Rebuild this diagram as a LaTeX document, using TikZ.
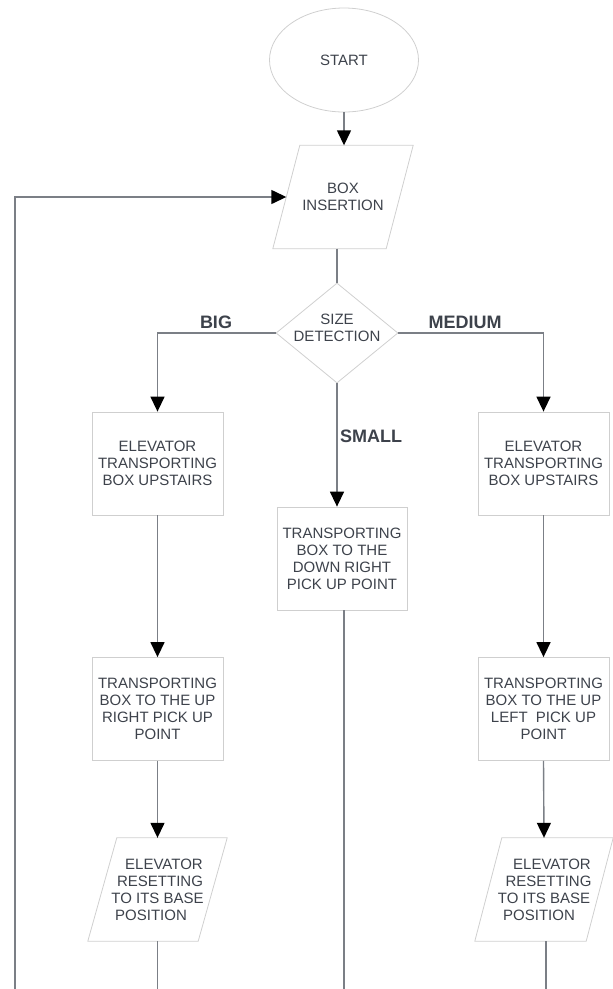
\documentclass[tikz,border=0pt]{standalone}
\usepackage{fontspec}
\setmainfont{Liberation Sans}
\usetikzlibrary{shapes.geometric,arrows.meta}
\definecolor{edgec}{HTML}{7B7F86}
\definecolor{framec}{HTML}{CFCFCF}
\definecolor{inkc}{HTML}{3D424B}
\newcommand\paraframe[2]{%
  \draw[framec,line width=0.8pt] ([xshift=#2]#1.north west) -- ([xshift=#2]#1.north east)
    -- ([xshift=-#2]#1.south east) -- ([xshift=-#2]#1.south west) -- cycle;}
\begin{document}
\begin{tikzpicture}[x=1pt,y=-1pt,
  every node/.style={text=inkc,font=\fontsize{15}{17}\selectfont},
  procbox/.style={rectangle,draw=framec,line width=0.8pt,minimum width=131pt,minimum height=103pt,inner sep=0pt,align=center},
  parabox/.style={rectangle,minimum width=#1,minimum height=103pt,inner sep=0pt,align=center},
  conn/.style={draw=edgec,line width=1.4pt},
  arr/.style={conn,-{Triangle[length=15pt,width=14pt,color=black]}},
  lbl/.style={font=\bfseries\fontsize{18}{20}\selectfont}
]
\useasboundingbox (0,0) rectangle (613,989);

% nodes
\node[ellipse,draw=framec,line width=0.8pt,minimum width=149pt,minimum height=104pt,inner sep=0pt] (start) at (344,60) {START};
\node[parabox=113pt] (ins) at (343,197) {BOX\\INSERTION};
\paraframe{ins}{13.5pt}
\node[diamond,draw=framec,line width=0.8pt,minimum width=122pt,minimum height=100pt,inner sep=0pt] (det) at (337,333) {};
\node[align=center,inner sep=0pt] (dett) at (337,328) {SIZE\\DETECTION};

\node[procbox] (lb1) at (157.5,463.5) {ELEVATOR\\TRANSPORTING\\BOX UPSTAIRS};
\node[procbox] (rb1) at (543.5,463.5) {ELEVATOR\\TRANSPORTING\\BOX UPSTAIRS};
\node[procbox,minimum width=130pt] (mb) at (342,558.5) {TRANSPORTING\\BOX TO THE\\DOWN RIGHT\\PICK UP POINT};

\node[procbox] (lb2) at (157.5,709) {TRANSPORTING\\BOX TO THE UP\\RIGHT PICK UP\\POINT};
\node[procbox] (rb2) at (543.5,709) {TRANSPORTING\\BOX TO THE UP\\LEFT~ PICK UP\\POINT};

\node[parabox=110pt] (lp) at (157.5,889.5) {\hspace*{13pt}ELEVATOR\\\hspace*{5pt}RESETTING\\TO ITS BASE\hspace*{5pt}\\POSITION\hspace*{13pt}};
\paraframe{lp}{14.5pt}
\node[parabox=111pt] (rp) at (544,889.5) {\hspace*{16pt}ELEVATOR\\\hspace*{9pt}RESETTING\\TO ITS BASE\hspace*{5pt}\\POSITION\hspace*{10pt}};
\paraframe{rp}{13.5pt}

% labels
\node[lbl] (big) at (216,322) {BIG};
\node[lbl] (med) at (465,322) {MEDIUM};
\node[lbl] (small) at (371,436) {SMALL};

% free ends
\coordinate (loopb) at (15,989);
\coordinate (lend) at (157.5,989);
\coordinate (mend) at (344,989);
\coordinate (rend) at (546,989);

% connectors
\draw[arr] (start.south) -- (start.south |- ins.north);
\draw[conn] (det.north |- ins.south) -- (det.north);
\draw[arr] (det.west) -| (lb1.north);
\draw[arr] (det.east) -| (rb1.north);
\draw[arr] (det.south) -- (det.south |- mb.north);
\draw[arr] (lb1.south) -- (lb2.north);
\draw[arr] (rb1.south) -- (rb2.north);
\draw[arr] (lb2.south) -- (lp.north);
\draw[arr] (rb2.south) -- (rp.north);
\draw[conn] (lp.south) -- (lend);
\draw[conn] (rend |- rp.south) -- (rend);
\draw[conn] (mend |- mb.south) -- (mend);
\draw[arr] (loopb) |- (ins.west);
\end{tikzpicture}
\end{document}
